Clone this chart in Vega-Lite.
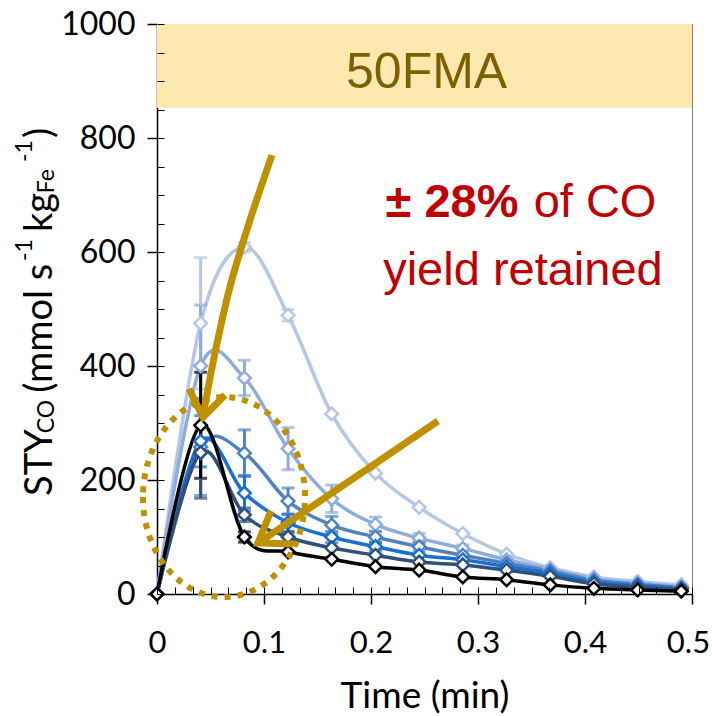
{
  "$schema": "https://vega.github.io/schema/vega-lite/v6.json",
  "width": 535,
  "height": 570,
  "autosize": {"type": "none"},
  "padding": {"left": 157, "top": 24, "right": 20, "bottom": 122},
  "background": "white",
  "config": {"view": {"stroke": "#7f7f7f", "strokeWidth": 1}, "font": "Lato"},
  "data": {"values": [
    {"s":"S1","t":0,"v":0},
    {"s":"S1","t":0.0408,"v":475,"lo":360,"hi":590},
    {"s":"S1","t":0.0817,"v":609,"lo":601,"hi":617},
    {"s":"S1","t":0.1225,"v":489,"lo":479,"hi":499},
    {"s":"S1","t":0.1633,"v":316},
    {"s":"S1","t":0.2042,"v":212},
    {"s":"S1","t":0.245,"v":152},
    {"s":"S1","t":0.2858,"v":106},
    {"s":"S1","t":0.3267,"v":70},
    {"s":"S1","t":0.3675,"v":46},
    {"s":"S1","t":0.4083,"v":30},
    {"s":"S1","t":0.4492,"v":22},
    {"s":"S1","t":0.49,"v":16},
    {"s":"S2","t":0,"v":0},
    {"s":"S2","t":0.0408,"v":400,"lo":293,"hi":507},
    {"s":"S2","t":0.0817,"v":379,"lo":348,"hi":410},
    {"s":"S2","t":0.1225,"v":255,"lo":218,"hi":292},
    {"s":"S2","t":0.1633,"v":167,"lo":143,"hi":191},
    {"s":"S2","t":0.2042,"v":122,"lo":109,"hi":135},
    {"s":"S2","t":0.245,"v":98,"lo":90,"hi":106},
    {"s":"S2","t":0.2858,"v":80,"lo":74,"hi":86},
    {"s":"S2","t":0.3267,"v":60},
    {"s":"S2","t":0.3675,"v":43},
    {"s":"S2","t":0.4083,"v":27},
    {"s":"S2","t":0.4492,"v":19},
    {"s":"S2","t":0.49,"v":13},
    {"s":"S3","t":0,"v":0},
    {"s":"S3","t":0.0408,"v":258,"lo":173,"hi":343},
    {"s":"S3","t":0.0817,"v":247,"lo":206,"hi":288},
    {"s":"S3","t":0.1225,"v":163,"lo":140,"hi":186},
    {"s":"S3","t":0.1633,"v":121,"lo":106,"hi":136},
    {"s":"S3","t":0.2042,"v":100,"lo":90,"hi":110},
    {"s":"S3","t":0.245,"v":83,"lo":75,"hi":91},
    {"s":"S3","t":0.2858,"v":68},
    {"s":"S3","t":0.3267,"v":54},
    {"s":"S3","t":0.3675,"v":40},
    {"s":"S3","t":0.4083,"v":24},
    {"s":"S3","t":0.4492,"v":17},
    {"s":"S3","t":0.49,"v":11},
    {"s":"S4","t":0,"v":0},
    {"s":"S4","t":0.0408,"v":268,"lo":223,"hi":313},
    {"s":"S4","t":0.0817,"v":177,"lo":146,"hi":208},
    {"s":"S4","t":0.1225,"v":125,"lo":110,"hi":140},
    {"s":"S4","t":0.1633,"v":100,"lo":90,"hi":110},
    {"s":"S4","t":0.2042,"v":83,"lo":75,"hi":91},
    {"s":"S4","t":0.245,"v":68},
    {"s":"S4","t":0.2858,"v":60},
    {"s":"S4","t":0.3267,"v":48},
    {"s":"S4","t":0.3675,"v":36},
    {"s":"S4","t":0.4083,"v":21},
    {"s":"S4","t":0.4492,"v":15},
    {"s":"S4","t":0.49,"v":10},
    {"s":"S5","t":0,"v":0},
    {"s":"S5","t":0.0408,"v":248,"lo":168,"hi":328},
    {"s":"S5","t":0.0817,"v":139,"lo":127,"hi":151},
    {"s":"S5","t":0.1225,"v":100,"lo":92,"hi":108},
    {"s":"S5","t":0.1633,"v":81},
    {"s":"S5","t":0.2042,"v":68},
    {"s":"S5","t":0.245,"v":56},
    {"s":"S5","t":0.2858,"v":51},
    {"s":"S5","t":0.3267,"v":42},
    {"s":"S5","t":0.3675,"v":31},
    {"s":"S5","t":0.4083,"v":18},
    {"s":"S5","t":0.4492,"v":12},
    {"s":"S5","t":0.49,"v":8},
    {"s":"S6","t":0,"v":0},
    {"s":"S6","t":0.0408,"v":296,"lo":203,"hi":389},
    {"s":"S6","t":0.0817,"v":100,"lo":91,"hi":109},
    {"s":"S6","t":0.1225,"v":74},
    {"s":"S6","t":0.1633,"v":61},
    {"s":"S6","t":0.2042,"v":48},
    {"s":"S6","t":0.245,"v":42},
    {"s":"S6","t":0.2858,"v":30},
    {"s":"S6","t":0.3267,"v":25},
    {"s":"S6","t":0.3675,"v":16},
    {"s":"S6","t":0.4083,"v":10},
    {"s":"S6","t":0.4492,"v":7},
    {"s":"S6","t":0.49,"v":5}
  ]},
  "resolve": {"axis": {"x": "independent", "y": "independent"}},
  "layer": [
    {
      "data": {"values": [{}]},
      "mark": {"type": "rect", "color": "#fde9b0"},
      "encoding": {
        "x": {"datum": 0, "type": "quantitative", "scale": {"domain": [0, 0.5], "nice": false, "zero": false},
          "axis": {"orient": "bottom", "values": [0, 0.1, 0.2, 0.3, 0.4, 0.5], "format": "~g", "grid": false, "tickSize": 10, "tickColor": "black", "tickWidth": 1.5, "domainColor": "black", "domainWidth": 1.5, "labelFont": "Lato", "labelFontSize": 31, "labelColor": "black", "labelPadding": 24, "labelFlush": false, "labelOverlap": false, "labelOffset": {"condition": {"test": "datum.value >= 0.5", "value": -4}, "value": 0}, "title": "Time (min)", "titleFont": "Lato", "titleFontSize": 37, "titleFontWeight": "normal", "titleColor": "black", "titlePadding": 20}},
        "x2": {"datum": 0.5},
        "y": {"datum": 853, "type": "quantitative", "scale": {"domain": [0, 1000], "nice": false, "zero": false},
          "axis": {"orient": "left", "values": [0, 200, 400, 600, 800, 1000], "format": "d", "grid": false, "tickSize": 10, "tickColor": "black", "tickWidth": 1.5, "domainColor": "black", "domainWidth": 1.5, "labelFont": "Lato", "labelFontSize": 32, "labelColor": "black", "labelPadding": 12, "labelOverlap": false, "labelFlush": false, "title": null}},
        "y2": {"datum": 1000}
      }
    },
    {
      "data": {"values": [{}]},
      "mark": {"type": "point", "opacity": 0},
      "encoding": {
        "x": {"datum": 0, "type": "quantitative",
          "axis": {"orient": "bottom", "values": [0, 0.016667, 0.033333, 0.05, 0.066667, 0.083333, 0.1, 0.116667, 0.133333, 0.15, 0.166667, 0.183333, 0.2, 0.216667, 0.233333, 0.25, 0.266667, 0.283333, 0.3, 0.316667, 0.333333, 0.35, 0.366667, 0.383333, 0.4, 0.416667, 0.433333, 0.45, 0.466667, 0.483333, 0.5], "labels": false, "domain": false, "grid": false, "tickSize": 7, "offset": -7, "tickColor": "black", "tickWidth": 1, "title": null, "zindex": 1}},
        "y": {"datum": 0, "type": "quantitative",
          "axis": {"orient": "left", "values": [0, 50, 100, 150, 200, 250, 300, 350, 400, 450, 500, 550, 600, 650, 700, 750, 800, 850, 900, 950, 1000], "labels": false, "domain": false, "grid": false, "tickSize": 7, "offset": -7, "tickColor": "black", "tickWidth": 1, "title": null, "zindex": 1}}
      }
    },
    {
      "mark": {"type": "line", "interpolate": "cardinal", "strokeWidth": 3.5},
      "encoding": {
        "x": {"field": "t", "type": "quantitative", "axis": null},
        "y": {"field": "v", "type": "quantitative", "axis": null},
        "color": {"field": "s", "type": "nominal", "legend": null, "scale": {"domain": ["S1","S2","S3","S4","S5","S6"], "range": ["#b4c7e7","#8fadda","#4f82c3","#1a6fcf","#2f5078","#000000"]}},
        "order": {"field": "t"}
      }
    },
    {
      "transform": [{"filter": "isValid(datum.lo)"}],
      "mark": {"type": "errorbar", "ticks": {"size": 13, "thickness": 3}, "thickness": 3},
      "encoding": {
        "x": {"field": "t", "type": "quantitative", "axis": null},
        "y": {"field": "lo", "type": "quantitative", "axis": null},
        "y2": {"field": "hi"},
        "color": {"field": "s", "type": "nominal", "legend": null}
      }
    },
    {
      "mark": {"type": "point", "shape": "diamond", "size": 160, "fill": "white", "fillOpacity": 1, "strokeWidth": 2.5, "filled": false},
      "encoding": {
        "x": {"field": "t", "type": "quantitative", "axis": null},
        "y": {"field": "v", "type": "quantitative", "axis": null},
        "color": {"field": "s", "type": "nominal", "legend": null}
      }
    },
    {
      "data": {"values": [{}]},
      "mark": {"type": "point", "shape": "M -0.81 0 A 0.81 1 0 1 0 0.81 0 A 0.81 1 0 1 0 -0.81 0 Z", "size": 40000, "filled": false, "stroke": "#bf9000", "strokeWidth": 6, "strokeDash": [6, 7], "opacity": 1},
      "encoding": {
        "x": {"datum": 0.0626, "type": "quantitative", "axis": null},
        "y": {"datum": 170, "type": "quantitative", "axis": null}
      }
    },
    {
      "data": {"values": [
        {"i": 0, "x": 0.1075, "y": 770},
        {"i": 1, "x": 0.0869, "y": 656},
        {"i": 2, "x": 0.0682, "y": 539},
        {"i": 3, "x": 0.0542, "y": 423},
        {"i": 4, "x": 0.0430, "y": 312}
      ]},
      "mark": {"type": "line", "interpolate": "catmull-rom", "color": "#bf9000", "strokeWidth": 7},
      "encoding": {
        "x": {"field": "x", "type": "quantitative", "axis": null},
        "y": {"field": "y", "type": "quantitative", "axis": null},
        "order": {"field": "i"}
      }
    },
    {
      "data": {"values": [
        {"g": "head1", "i": 0, "x": 0.0299, "y": 360},
        {"g": "head1", "i": 1, "x": 0.0430, "y": 310},
        {"g": "head1", "i": 2, "x": 0.0636, "y": 349},
        {"g": "shaft2", "i": 0, "x": 0.2626, "y": 303.5},
        {"g": "shaft2", "i": 1, "x": 0.0950, "y": 90},
        {"g": "head2", "i": 0, "x": 0.1065, "y": 145.6},
        {"g": "head2", "i": 1, "x": 0.0944, "y": 89.5},
        {"g": "head2", "i": 2, "x": 0.1271, "y": 87.7}
      ]},
      "mark": {"type": "line", "color": "#bf9000", "strokeWidth": 7, "strokeJoin": "miter", "strokeCap": "butt"},
      "encoding": {
        "x": {"field": "x", "type": "quantitative", "axis": null},
        "y": {"field": "y", "type": "quantitative", "axis": null},
        "detail": {"field": "g"},
        "order": {"field": "i"}
      }
    },
    {
      "data": {"values": [{}]},
      "mark": {"type": "text", "text": "50FMA", "font": "Liberation Sans", "fontSize": 50, "color": "#7f6000", "align": "center", "baseline": "alphabetic"},
      "encoding": {"x": {"datum": 0.252, "type": "quantitative", "axis": null}, "y": {"datum": 888, "type": "quantitative", "axis": null}}
    },
    {
      "data": {"values": [{}]},
      "mark": {"type": "text", "text": "± 28%", "font": "Liberation Sans", "fontWeight": "bold", "fontSize": 47, "color": "#c00000", "align": "left", "baseline": "alphabetic"},
      "encoding": {"x": {"datum": 0.2136, "type": "quantitative", "axis": null}, "y": {"datum": 661, "type": "quantitative", "axis": null}}
    },
    {
      "data": {"values": [{}]},
      "mark": {"type": "text", "text": "of CO", "font": "Liberation Sans", "fontSize": 47, "color": "#c00000", "align": "left", "baseline": "alphabetic"},
      "encoding": {"x": {"datum": 0.352, "type": "quantitative", "axis": null}, "y": {"datum": 661, "type": "quantitative", "axis": null}}
    },
    {
      "data": {"values": [{}]},
      "mark": {"type": "text", "text": "yield retained", "font": "Liberation Sans", "fontSize": 47, "color": "#c00000", "align": "center", "baseline": "alphabetic"},
      "encoding": {"x": {"datum": 0.342, "type": "quantitative", "axis": null}, "y": {"datum": 542, "type": "quantitative", "axis": null}}
    },
    {
      "data": {"values": [{}]},
      "mark": {"type": "text", "text": "STY", "font": "Lato", "fontSize": 38, "color": "black", "angle": 270, "align": "left", "baseline": "alphabetic"},
      "encoding": {"x": {"datum": -0.0981, "type": "quantitative", "axis": null}, "y": {"datum": 172, "type": "quantitative", "axis": null}}
    },
    {
      "data": {"values": [{}]},
      "mark": {"type": "text", "text": "CO", "font": "Lato", "fontSize": 23, "color": "black", "angle": 270, "align": "left", "baseline": "alphabetic"},
      "encoding": {"x": {"datum": -0.0958, "type": "quantitative", "axis": null}, "y": {"datum": 282, "type": "quantitative", "axis": null}}
    },
    {
      "data": {"values": [{}]},
      "mark": {"type": "text", "text": "(mmol s", "font": "Lato", "fontSize": 38, "color": "black", "angle": 270, "align": "left", "baseline": "alphabetic"},
      "encoding": {"x": {"datum": -0.0981, "type": "quantitative", "axis": null}, "y": {"datum": 353, "type": "quantitative", "axis": null}}
    },
    {
      "data": {"values": [{}]},
      "mark": {"type": "text", "text": "-1", "font": "Lato", "fontSize": 23, "color": "black", "angle": 270, "align": "left", "baseline": "alphabetic"},
      "encoding": {"x": {"datum": -0.1168, "type": "quantitative", "axis": null}, "y": {"datum": 584, "type": "quantitative", "axis": null}}
    },
    {
      "data": {"values": [{}]},
      "mark": {"type": "text", "text": "kg", "font": "Lato", "fontSize": 38, "color": "black", "angle": 270, "align": "left", "baseline": "alphabetic"},
      "encoding": {"x": {"datum": -0.0981, "type": "quantitative", "axis": null}, "y": {"datum": 635, "type": "quantitative", "axis": null}}
    },
    {
      "data": {"values": [{}]},
      "mark": {"type": "text", "text": "Fe", "font": "Lato", "fontSize": 23, "color": "black", "angle": 270, "align": "left", "baseline": "alphabetic"},
      "encoding": {"x": {"datum": -0.0958, "type": "quantitative", "axis": null}, "y": {"datum": 703, "type": "quantitative", "axis": null}}
    },
    {
      "data": {"values": [{}]},
      "mark": {"type": "text", "text": "-1", "font": "Lato", "fontSize": 23, "color": "black", "angle": 270, "align": "left", "baseline": "alphabetic"},
      "encoding": {"x": {"datum": -0.1168, "type": "quantitative", "axis": null}, "y": {"datum": 758, "type": "quantitative", "axis": null}}
    },
    {
      "data": {"values": [{}]},
      "mark": {"type": "text", "text": ")", "font": "Lato", "fontSize": 38, "color": "black", "angle": 270, "align": "left", "baseline": "alphabetic"},
      "encoding": {"x": {"datum": -0.0981, "type": "quantitative", "axis": null}, "y": {"datum": 800, "type": "quantitative", "axis": null}}
    }
  ]
}
